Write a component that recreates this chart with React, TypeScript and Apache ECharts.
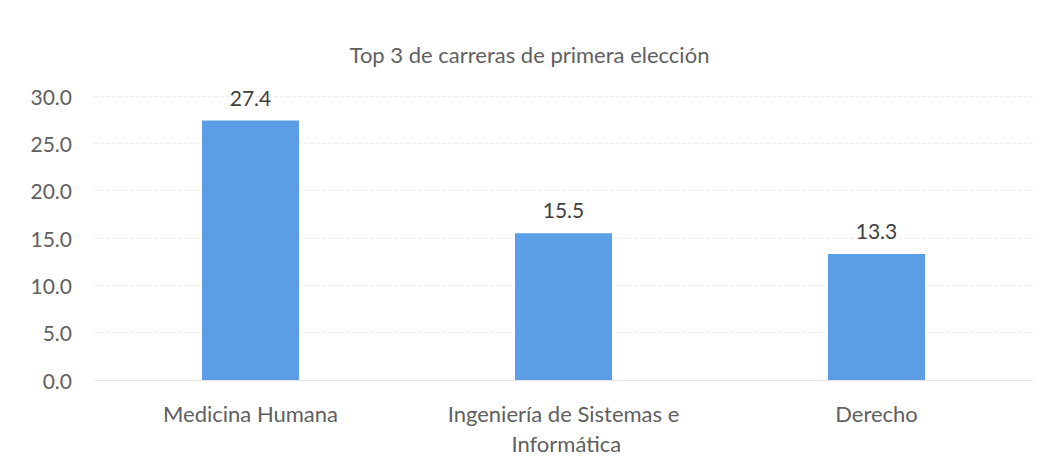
import React, { useEffect, useRef } from "react";
import * as echarts from "echarts";

const title = "Top 3 de carreras de primera elección";
const categories = ["Medicina Humana", "Ingeniería de Sistemas e Informática", "Derecho"];
const values = [27.4, 15.5, 13.3];

export default function App() {
  const ref = useRef<HTMLDivElement>(null);
  useEffect(() => {
    if (!ref.current) return;
    const chart = echarts.init(ref.current, undefined, { renderer: "svg" });
    const font = "Lato, 'Open Sans', sans-serif";
    chart.setOption({
      animation: false,
      backgroundColor: "#ffffff",
      title: {
        text: title,
        left: "center",
        top: 38,
        textStyle: { fontFamily: font, fontSize: 22, fontWeight: "normal", color: "#606060" },
      },
      grid: { left: 94, right: 26, top: 96, bottom: 86, containLabel: false },
      xAxis: {
        type: "category",
        data: categories,
        axisLine: { show: true, lineStyle: { color: "#e6e6e6" } },
        axisTick: { show: false },
        axisLabel: {
          interval: 0,
          margin: 18,
          width: 250,
          overflow: "break",
          lineHeight: 30,
          fontFamily: font,
          fontSize: 22,
          color: "#606060",
        },
      },
      yAxis: {
        type: "value",
        min: 0,
        max: 30,
        interval: 5,
        axisLine: { show: false },
        axisTick: { show: false },
        splitLine: { lineStyle: { color: "#ececec", type: "dashed" } },
        axisLabel: {
          margin: 22,
          fontFamily: font,
          fontSize: 21,
          color: "#606060",
          formatter: (v: number) => v.toFixed(1),
        },
      },
      series: [
        {
          type: "bar",
          data: values,
          barWidth: "31%",
          itemStyle: { color: "#5c9de8" },
          label: {
            show: true,
            position: "top",
            distance: 13,
            fontFamily: font,
            fontSize: 21,
            color: "#404040",
            formatter: (p: any) => Number(p.value).toFixed(1),
          },
        },
      ],
    });
    return () => chart.dispose();
  }, []);
  return (
    <div
      ref={ref}
      style={{ position: "fixed", left: 0, top: 0, width: 1059, height: 466 }}
    />
  );
}
